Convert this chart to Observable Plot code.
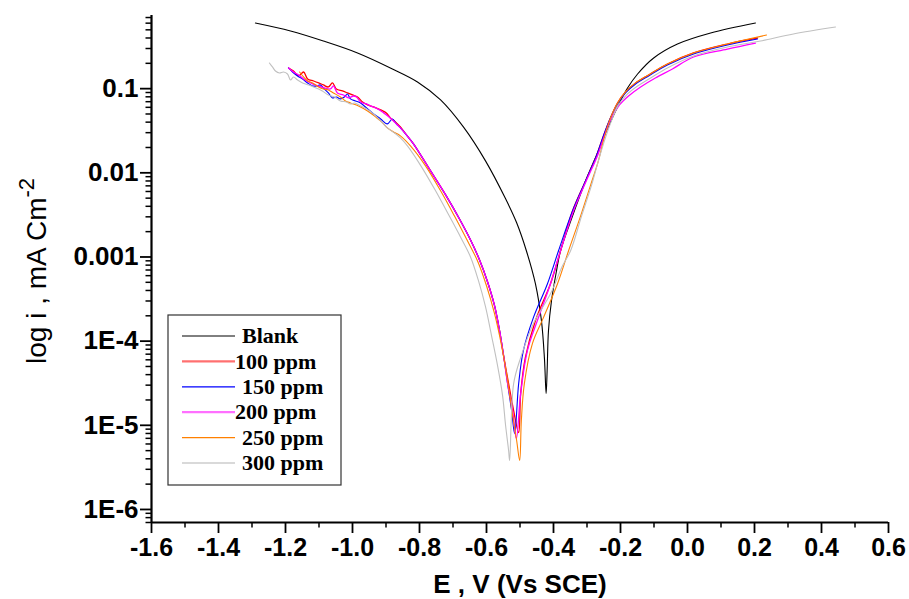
<!DOCTYPE html>
<html><head><meta charset="utf-8">
<script src="https://cdn.jsdelivr.net/npm/d3@7"></script>
<script src="https://cdn.jsdelivr.net/npm/@observablehq/plot@0.6"></script>
<style>body{margin:0;background:#fff;}</style>
</head><body><div id="chart"></div>
<script>
// Series: [E (V vs SCE), log10 i (mA cm^-2)]
const seriesNames = ["Blank", "100 ppm", "150 ppm", "200 ppm", "250 ppm", "300 ppm"];
const seriesColors = ["#000000", "#ff0000", "#0000ff", "#ff00ff", "#ff8000", "#c0c0c0"];

const blankData = [
[-1.290,-0.220],[-1.185,-0.315],[-1.087,-0.434],[-0.985,-0.576],[-0.887,-0.754],[-0.806,-0.920],[-0.737,-1.134],[-0.669,-1.455],[-0.603,-1.858],[-0.543,-2.309],[-0.510,-2.594],[-0.481,-2.926],[-0.454,-3.318],[-0.436,-3.757],[-0.427,-4.208],[-0.422,-4.623],
[-0.419,-4.350],[-0.415,-3.876],[-0.406,-3.520],[-0.391,-3.164],[-0.379,-2.926],[-0.343,-2.511],[-0.304,-2.095],[-0.266,-1.739],[-0.239,-1.478],[-0.200,-1.146],[-0.179,-0.992],[-0.149,-0.826],[-0.101,-0.636],[-0.030,-0.470],[0.069,-0.339],[0.203,-0.220]];

const ppm100Data = [
[-1.191,-0.754],[-1.176,-0.790],[-1.161,-0.849],[-1.146,-0.802],[-1.134,-0.885],[-1.116,-0.909],[-1.101,-0.932],[-1.087,-0.956],[-1.072,-0.980],[-1.060,-0.932],[-1.048,-1.004],[-1.030,-1.027],[-1.015,-1.051],[-1.000,-1.075],[-0.985,-1.099],[-0.970,-1.158],[-0.955,-1.193],[-0.937,-1.217],[-0.916,-1.253],[-0.899,-1.288],[-0.887,-1.348],[-0.872,-1.395],[-0.857,-1.455],[-0.839,-1.549],[-0.818,-1.656],
[-0.767,-1.977],[-0.722,-2.262],[-0.681,-2.546],[-0.648,-2.796],[-0.621,-3.033],[-0.597,-3.294],[-0.576,-3.579],[-0.561,-3.876],[-0.549,-4.172],[-0.534,-4.505],[-0.519,-4.825],[-0.504,-5.086],
[-0.498,-4.623],[-0.484,-4.196],[-0.454,-3.757],[-0.409,-3.318],[-0.379,-2.926],[-0.343,-2.451],[-0.304,-2.095],[-0.272,-1.799],[-0.251,-1.561],[-0.230,-1.348],[-0.209,-1.170],[-0.185,-1.039],[-0.155,-0.932],[-0.116,-0.837],[-0.060,-0.707],[0.018,-0.576],[0.119,-0.470],[0.209,-0.398]];

const ppm150Data = [
[-1.191,-0.754],[-1.179,-0.802],[-1.164,-0.849],[-1.149,-0.885],[-1.134,-0.932],[-1.119,-0.968],[-1.107,-0.968],[-1.096,-0.956],[-1.084,-1.004],[-1.072,-1.051],[-1.060,-1.110],[-1.048,-1.099],[-1.036,-1.122],[-1.024,-1.099],[-1.015,-1.063],[-1.006,-1.122],[-0.991,-1.146],[-0.976,-1.170],[-0.958,-1.229],[-0.937,-1.300],[-0.916,-1.360],[-0.896,-1.419],[-0.881,-1.360],[-0.869,-1.419],[-0.857,-1.466],[-0.839,-1.549],[-0.818,-1.656],
[-0.767,-1.977],[-0.722,-2.262],[-0.681,-2.546],[-0.648,-2.796],[-0.621,-3.033],[-0.597,-3.294],[-0.576,-3.579],[-0.561,-3.876],[-0.549,-4.172],[-0.537,-4.505],[-0.525,-4.825],[-0.516,-5.098],
[-0.504,-4.505],[-0.490,-4.113],[-0.460,-3.721],[-0.418,-3.318],[-0.385,-2.926],[-0.343,-2.451],[-0.304,-2.095],[-0.272,-1.799],[-0.251,-1.561],[-0.230,-1.348],[-0.209,-1.182],[-0.185,-1.051],[-0.155,-0.944],[-0.116,-0.849],[-0.060,-0.719],[0.018,-0.588],[0.119,-0.481],[0.209,-0.410]];

const ppm200Data = [
[-1.191,-0.754],[-1.176,-0.802],[-1.161,-0.837],[-1.146,-0.885],[-1.125,-0.932],[-1.104,-0.968],[-1.084,-0.992],[-1.066,-1.004],[-1.057,-0.968],[-1.045,-1.051],[-1.027,-1.075],[-1.012,-1.110],[-0.997,-1.087],[-0.988,-1.099],[-0.976,-1.158],[-0.958,-1.182],[-0.946,-1.205],[-0.925,-1.241],[-0.907,-1.288],[-0.887,-1.348],[-0.872,-1.407],[-0.857,-1.466],[-0.839,-1.549],[-0.818,-1.656],
[-0.767,-1.977],[-0.722,-2.262],[-0.681,-2.546],[-0.648,-2.796],[-0.621,-3.033],[-0.597,-3.294],[-0.576,-3.579],[-0.561,-3.876],[-0.549,-4.172],[-0.537,-4.505],[-0.522,-4.825],[-0.511,-5.158],
[-0.498,-4.623],[-0.478,-4.113],[-0.445,-3.721],[-0.409,-3.318],[-0.379,-2.926],[-0.340,-2.451],[-0.302,-2.095],[-0.269,-1.799],[-0.248,-1.561],[-0.227,-1.348],[-0.203,-1.193],[-0.176,-1.087],[-0.140,-0.980],[-0.096,-0.873],[-0.045,-0.766],[0.018,-0.624],[0.119,-0.529],[0.203,-0.458]];

const ppm250Data = [
[-1.158,-0.802],[-1.146,-0.861],[-1.134,-0.909],[-1.119,-0.932],[-1.101,-0.980],[-1.087,-1.004],[-1.072,-1.015],[-1.057,-1.051],[-1.036,-1.099],[-1.021,-1.146],[-1.006,-1.170],[-0.982,-1.205],[-0.955,-1.265],[-0.931,-1.336],[-0.913,-1.395],[-0.896,-1.466],[-0.878,-1.514],[-0.857,-1.561],[-0.827,-1.680],
[-0.782,-1.917],[-0.737,-2.214],[-0.696,-2.511],[-0.660,-2.784],[-0.627,-3.045],[-0.600,-3.342],[-0.576,-3.674],[-0.555,-4.054],[-0.537,-4.469],[-0.522,-4.884],[-0.510,-5.181],[-0.501,-5.419],
[-0.496,-4.944],[-0.487,-4.505],[-0.463,-4.030],[-0.430,-3.721],[-0.388,-3.318],[-0.355,-2.926],[-0.319,-2.511],[-0.290,-2.155],[-0.266,-1.858],[-0.251,-1.621],[-0.233,-1.383],[-0.212,-1.193],[-0.185,-1.039],[-0.155,-0.932],[-0.116,-0.837],[-0.060,-0.707],[0.018,-0.576],[0.119,-0.470],[0.236,-0.363]];

const ppm300Data = [
[-1.248,-0.695],[-1.239,-0.742],[-1.230,-0.790],[-1.218,-0.814],[-1.206,-0.802],[-1.194,-0.826],[-1.185,-0.897],[-1.176,-0.861],[-1.164,-0.897],[-1.149,-0.932],[-1.131,-0.956],[-1.116,-0.980],[-1.101,-1.004],[-1.090,-1.027],[-1.072,-1.075],[-1.054,-1.099],[-1.036,-1.146],[-1.018,-1.158],[-1.006,-1.182],[-0.994,-1.170],[-0.976,-1.205],[-0.958,-1.241],[-0.937,-1.300],[-0.916,-1.383],[-0.896,-1.466],[-0.875,-1.526],[-0.857,-1.585],[-0.836,-1.680],
[-0.794,-1.929],[-0.752,-2.214],[-0.713,-2.499],[-0.678,-2.760],[-0.648,-2.997],[-0.624,-3.282],[-0.603,-3.591],[-0.585,-3.935],[-0.567,-4.291],[-0.552,-4.647],[-0.543,-5.003],[-0.534,-5.300],[-0.531,-5.419],
[-0.519,-4.505],[-0.498,-4.196],[-0.460,-3.792],[-0.409,-3.437],[-0.373,-3.104],[-0.349,-2.926],[-0.316,-2.511],[-0.287,-2.155],[-0.266,-1.858],[-0.248,-1.621],[-0.227,-1.383],[-0.206,-1.193],[-0.179,-1.063],[-0.149,-0.968],[-0.110,-0.873],[-0.060,-0.754],[0.018,-0.612],[0.119,-0.505],[0.218,-0.434],[0.316,-0.351],[0.442,-0.268]];

const seriesData = [blankData, ppm100Data, ppm150Data, ppm200Data, ppm250Data, ppm300Data];

const xTicks = [-1.6, -1.4, -1.2, -1.0, -0.8, -0.6, -0.4, -0.2, 0.0, 0.2, 0.4, 0.6];
const xTickLabels = ["-1.6", "-1.4", "-1.2", "-1.0", "-0.8", "-0.6", "-0.4", "-0.2", "0.0", "0.2", "0.4", "0.6"];
const xMinorTicks = [-1.5, -1.3, -1.1, -0.9, -0.7, -0.5, -0.3, -0.1, 0.1, 0.3, 0.5];
const yTicks = [1e-1, 1e-2, 1e-3, 1e-4, 1e-5, 1e-6];
const yTickLabels = ["0.1", "0.01", "0.001", "1E-4", "1E-5", "1E-6"];
const xDomain = [-1.6, 0.6];
const yDomain = [7e-7, 0.74];
const yMinorTicks = [];
for (let d = -7; d <= -1; d++) for (let m = 2; m <= 9; m++) {
  const v = m * Math.pow(10, d);
  if (v >= yDomain[0] && v <= yDomain[1]) yMinorTicks.push(v);
}

const rows = seriesData.flatMap((arr, k) => arr.map(([e, l]) => ({series: seriesNames[k], E: e, i: Math.pow(10, l)})));

const lineMarks = seriesNames.map((name, k) =>
  Plot.line(rows.filter(r => r.series === name), {
    x: "E", y: "i", stroke: seriesColors[k],
    strokeWidth: (k === 1 || k === 3) ? 1.3 : 1.1,
    curve: "catmull-rom"
  })
);

const tickFont = {fontFamily: "'Liberation Sans', Arial, sans-serif", fontWeight: "bold"};

const svg = Plot.plot({
  width: 909, height: 599,
  marginLeft: 151, marginRight: 21, marginTop: 15, marginBottom: 77,
  style: {background: "#fff", color: "#000", ...tickFont},
  x: {domain: xDomain},
  y: {type: "log", domain: yDomain},
  marks: [
    ...lineMarks,
    Plot.axisY(yTicks, {anchor: "left", tickSize: 11, tickPadding: 2, strokeWidth: 1.8, fontSize: 26, fontWeight: "bold", label: null, tickFormat: d => yTickLabels[yTicks.indexOf(d)]}),
    Plot.axisY(yMinorTicks, {anchor: "left", tickSize: 5.5, strokeWidth: 1.5, label: null, tickFormat: () => ""}),
    Plot.axisX(xTicks, {anchor: "bottom", tickSize: 11, tickPadding: 5, strokeWidth: 1.8, fontSize: 25, fontWeight: "bold", label: null, tickFormat: d => xTickLabels[xTicks.indexOf(d)]}),
    Plot.axisX(xMinorTicks, {anchor: "bottom", tickSize: 5.5, strokeWidth: 1.5, label: null, tickFormat: () => ""}),
    Plot.ruleX([xDomain[0]], {strokeWidth: 2.2}),
    Plot.ruleY([yDomain[0]], {strokeWidth: 2.2})
  ]
});

const s = d3.select(svg);
// axis titles
s.append("text")
  .attr("x", 520).attr("y", 593)
  .attr("text-anchor", "middle")
  .style("font-family", "'Liberation Sans', Arial, sans-serif")
  .style("font-weight", "bold").style("font-size", "26px")
  .text("E , V (Vs SCE)");
const yt = s.append("text")
  .attr("transform", "translate(46,271) rotate(-90)")
  .attr("text-anchor", "middle")
  .style("font-family", "'Liberation Sans', Arial, sans-serif")
  .style("font-weight", "normal").style("font-size", "28px");
yt.append("tspan").text("log i , mA Cm");
yt.append("tspan").attr("dy", -12).style("font-size", "22px").text("-2");

// legend
const lg = s.append("g");
lg.append("rect").attr("x", 168).attr("y", 315).attr("width", 173).attr("height", 170)
  .attr("fill", "#fff").attr("stroke", "#333").attr("stroke-width", 1.2);
const legendTextX = [242, 235, 242, 235, 242, 242];
const legendLineW = [1, 2.2, 1.2, 2.2, 1.2, 1.6];
const legendLineColor = ["#000000", "#ff7070", "#0000ff", "#ff70ff", "#ff8000", "#cccccc"];
seriesNames.forEach((name, k) => {
  const y = 336 + k * 25.4;
  lg.append("line").attr("x1", 182).attr("x2", 235).attr("y1", y).attr("y2", y)
    .attr("stroke", legendLineColor[k]).attr("stroke-width", legendLineW[k]);
  lg.append("text").attr("x", legendTextX[k]).attr("y", y).attr("dy", "0.33em")
    .attr("text-anchor", "start")
    .style("font-family", "'Liberation Serif', 'Times New Roman', serif")
    .style("font-weight", "bold").style("font-size", "22px")
    .text(name);
});

document.getElementById("chart").appendChild(svg);
</script>
</body></html>
